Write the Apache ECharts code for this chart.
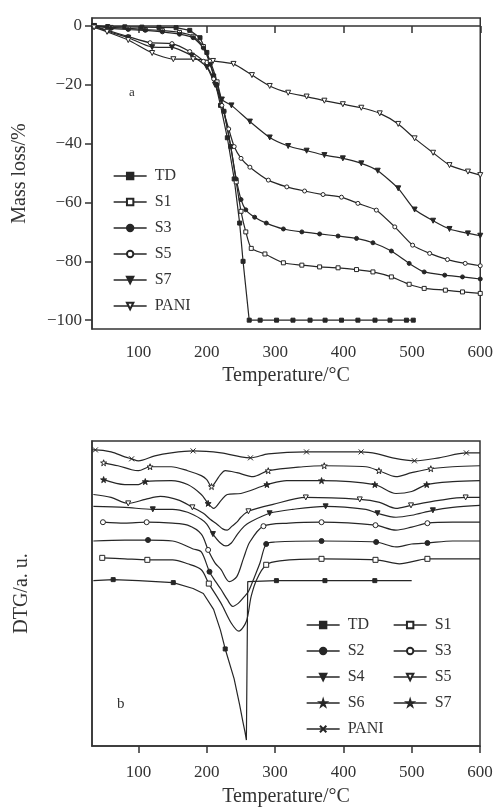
<!DOCTYPE html>
<html><head><meta charset="utf-8">
<script src="https://cdn.jsdelivr.net/npm/echarts@6/dist/echarts.min.js"></script>
<style>html,body{margin:0;padding:0;background:#fff}#c{width:496px;height:808px}</style>
</head><body><div id="c"></div>
<script>
const FONT = "'Liberation Serif','DejaVu Serif','Times New Roman',serif";
const INK = '#262626';
const xTicks = [100, 200, 300, 400, 500, 600];
const massTicks = [-100, -80, -60, -40, -20, 0];

// ---------- Panel a : mass loss (%) vs temperature (°C) ----------
const tdT_a = [35, 55, 80, 105, 130, 155, 175, 190, 200, 210, 220, 230, 240, 248, 253, 262, 278, 302, 326, 351, 373, 397, 421, 446, 468, 492, 502];
const tdY_a = [0, -0.2, -0.3, -0.4, -0.5, -0.6, -1.5, -4, -9, -17, -27, -38, -52, -67, -80, -100, -100, -100, -100, -100, -100, -100, -100, -100, -100, -100, -100];
const s1T_a = [35, 60, 85, 110, 135, 160, 180, 195, 205, 215, 225, 235, 243, 250, 257, 265, 285, 312, 339, 365, 392, 419, 443, 470, 496, 518, 549, 574, 600];
const s1Y_a = [0, -0.5, -0.8, -1.2, -1.6, -2.2, -3.5, -7, -12, -19, -29, -41, -53, -63, -70, -75.6, -77.5, -80.5, -81.3, -81.9, -82.2, -82.8, -83.6, -85.3, -87.8, -89.2, -89.8, -90.4, -90.9];
const s3T_a = [35, 60, 85, 110, 135, 160, 180, 195, 205, 215, 225, 235, 243, 250, 257, 270, 287, 312, 339, 365, 392, 419, 443, 470, 496, 518, 548, 574, 600];
const s3Y_a = [0, -0.8, -1.2, -1.5, -2, -2.8, -4, -7.5, -13, -20, -29, -41, -52, -59, -62.5, -65, -67, -69, -70, -70.7, -71.4, -72.2, -73.7, -76.5, -80.7, -83.6, -84.7, -85.3, -86];
const s5T_a = [35, 55, 85, 117, 149, 175, 195, 210, 222, 232, 240, 250, 263, 290, 317, 343, 370, 397, 421, 448, 475, 501, 526, 552, 578, 600];
const s5Y_a = [0, -1.5, -3.6, -5.7, -6, -8.7, -12, -18, -27, -35, -41, -45, -48, -52.4, -54.7, -56.1, -57.3, -58.2, -60.3, -62.6, -68.3, -74.5, -77.3, -79.4, -80.7, -81.5];
const s7T_a = [35, 55, 85, 120, 149, 178, 200, 212, 222, 236, 263, 292, 319, 346, 372, 399, 426, 450, 480, 504, 531, 555, 582, 600];
const s7Y_a = [0, -1.8, -4, -7.2, -7.3, -10.1, -14, -20, -25, -27, -32.5, -37.9, -40.8, -42.4, -43.9, -45, -46.7, -49.2, -55.2, -62.4, -66.2, -69, -70.5, -71.3];
const paniT_a = [35, 54, 85, 120, 151, 180, 209, 239, 266, 292, 319, 346, 372, 399, 426, 453, 480, 504, 531, 555, 582, 600];
const paniY_a = [-0.5, -2, -4.8, -9.2, -11.3, -11.3, -11.9, -12.9, -16.7, -20.4, -22.7, -24, -25.4, -26.6, -27.8, -29.7, -33.3, -38.2, -43.1, -47.3, -49.5, -50.7];

// ---------- Panel b : DTG (arbitrary units, curves offset) ----------
const paniT_b = [32, 37, 60, 80, 90, 100, 124, 148, 180, 221, 250, 264, 290, 346, 426, 450, 472, 504, 540, 580, 600];
const paniY_b = [299, 299, 297, 292, 290, 288, 293, 296, 298, 296, 292, 291, 295, 297, 297, 295, 291, 288, 291, 296, 296];
const paniM_b = [37, 90, 180, 264, 346, 426, 504, 580];
const s7T_b = [49, 70, 90, 100, 117, 148, 172, 192, 200, 207, 214, 220, 227, 244, 268, 290, 341, 372, 433, 452, 477, 500, 528, 560, 600];
const s7Y_b = [286, 283, 279, 278, 282, 282, 278, 273, 269, 262, 268, 274, 278, 276, 272, 278, 282, 283, 282, 278, 272, 276, 280, 282, 283];
const s7M_b = [49, 117, 207, 290, 372, 452, 528];
const s6T_b = [49, 80, 100, 110, 148, 172, 192, 202, 210, 221, 230, 250, 280, 288, 317, 368, 446, 477, 500, 522, 560, 600];
const s6Y_b = [269, 264, 264, 267, 268, 264, 254, 245, 240, 248, 254, 255, 262, 264, 268, 268, 264, 255, 257, 264, 267, 268];
const s6M_b = [49, 110, 202, 288, 368, 446, 522];
const s5T_b = [34, 60, 85, 110, 132, 160, 179, 195, 205, 215, 224, 230, 237, 244, 250, 261, 297, 345, 424, 453, 477, 499, 540, 579, 600];
const s5Y_b = [254, 251, 245, 249, 252, 248, 241, 235, 229, 224, 219, 218, 222, 226, 231, 237, 244, 251, 249, 246, 240, 243, 248, 251, 251];
const s5M_b = [85, 179, 261, 345, 424, 499, 579];
const s4T_b = [34, 80, 121, 150, 172, 192, 200, 209, 220, 228, 236, 245, 255, 263, 292, 326, 374, 433, 450, 477, 500, 531, 560, 600];
const s4Y_b = [242, 241, 239, 239, 236, 229, 224, 214, 205, 202, 205, 214, 222, 226, 235, 239, 242, 239, 235, 231, 233, 238, 241, 243];
const s4M_b = [121, 209, 292, 374, 450, 531];
const s3T_b = [48, 80, 112, 150, 172, 192, 202, 212, 221, 233, 244, 254, 263, 283, 320, 368, 447, 477, 500, 523, 560, 600];
const s3Y_b = [226, 225, 226, 225, 223, 214, 198, 185, 178, 166, 171, 190, 206, 222, 225, 226, 223, 218, 221, 225, 226, 226];
const s3M_b = [48, 112, 202, 283, 368, 447, 523];
const s2T_b = [34, 80, 114, 150, 180, 192, 204, 213, 221, 230, 238, 246, 254, 261, 270, 278, 287, 300, 368, 448, 477, 500, 523, 560, 600];
const s2Y_b = [207, 208, 208, 207, 199, 196, 176, 166, 158, 148, 141, 144, 150, 156, 171, 185, 204, 206, 207, 206, 201, 204, 205, 207, 207];
const s2M_b = [114, 204, 287, 368, 448, 523];
const s1T_b = [47, 80, 113, 150, 172, 192, 203, 221, 236, 247, 258, 265, 273, 287, 307, 368, 447, 472, 482, 523, 560, 600];
const s1Y_b = [190, 189, 188, 188, 184, 178, 164, 144, 124, 116, 126, 151, 168, 183, 187, 189, 188, 185, 184, 189, 189, 189];
const s1M_b = [47, 113, 203, 287, 368, 447, 523];
const tdT_b = [34, 63, 100, 151, 180, 195, 210, 220, 227, 240, 248, 253, 256, 258, 260, 302, 373, 446, 500];
const tdY_b = [167, 168, 167, 165, 159, 154, 138, 117, 98, 68, 42, 24, 14, 6, 166, 167, 167, 167, 167];
const tdM_b = [63, 151, 227, 302, 373, 446];

// ---------- styles ----------
const STAR = 'path://M50,2 L61,36 L97,36 L68,57 L79,92 L50,71 L21,92 L32,57 L3,36 L39,36 Z';
const CROSS = 'path://M0,0 L10,10 M10,0 L0,10';
const STY = {
  // panel a
  TDa:  {sym: 'rect', open: false},
  S1a:  {sym: 'rect', open: true},
  S3a:  {sym: 'circle', open: false},
  S5a:  {sym: 'circle', open: true},
  S7a:  {sym: 'triangle', rot: 180, open: false},
  PANIa:{sym: 'triangle', rot: 180, open: true},
  // panel b
  TD:   {sym: 'rect', open: false},
  S1:   {sym: 'rect', open: true},
  S2:   {sym: 'circle', open: false},
  S3:   {sym: 'circle', open: true},
  S4:   {sym: 'triangle', rot: 180, open: false},
  S5:   {sym: 'triangle', rot: 180, open: true},
  S6:   {sym: STAR, open: false},
  S7:   {sym: STAR, open: true},
  PANI: {sym: CROSS, open: false}
};

function mk(name, key, T, Y, axis, size, markT, smooth) {
  const st = STY[key];
  const data = T.map((t, i) => (markT && markT.indexOf(t) < 0) ? {value: [t, Y[i]], symbol: 'none'} : [t, Y[i]]);
  return {
    type: 'line', name, xAxisIndex: axis, yAxisIndex: axis, data,
    symbol: st.sym, symbolRotate: st.rot || 0, symbolSize: size, showAllSymbol: true,
    smooth: smooth, animation: false, silent: true,
    lineStyle: {color: INK, width: 1.2},
    itemStyle: {color: st.open ? '#fff' : INK, borderColor: INK, borderWidth: 1},
    emphasis: {disabled: true}
  };
}

const series = [
  mk('TD', 'TDa', tdT_a, tdY_a, 0, 4, null, false),
  mk('S1', 'S1a', s1T_a, s1Y_a, 0, 4, null, 0.2),
  mk('S3', 'S3a', s3T_a, s3Y_a, 0, 4, null, 0.2),
  mk('S5', 'S5a', s5T_a, s5Y_a, 0, 4, null, 0.2),
  mk('S7', 'S7a', s7T_a, s7Y_a, 0, 5, null, 0.2),
  mk('PANI', 'PANIa', paniT_a, paniY_a, 0, 5, null, 0.2),
  mk('b:TD', 'TD', tdT_b, tdY_b, 1, 4, tdM_b, false),
  mk('b:S1', 'S1', s1T_b, s1Y_b, 1, 5, s1M_b, 0.3),
  mk('b:S2', 'S2', s2T_b, s2Y_b, 1, 5, s2M_b, 0.3),
  mk('b:S3', 'S3', s3T_b, s3Y_b, 1, 5, s3M_b, 0.3),
  mk('b:S4', 'S4', s4T_b, s4Y_b, 1, 5, s4M_b, 0.3),
  mk('b:S5', 'S5', s5T_b, s5Y_b, 1, 5, s5M_b, 0.3),
  mk('b:S6', 'S6', s6T_b, s6Y_b, 1, 6, s6M_b, 0.3),
  mk('b:S7', 'S7', s7T_b, s7Y_b, 1, 6, s7M_b, 0.3),
  mk('b:PANI', 'PANI', paniT_b, paniY_b, 1, 5, paniM_b, 0.3)
];

const axisFont = {fontFamily: FONT, fontSize: 17, color: '#333'};
const nameFont = {fontFamily: FONT, fontSize: 20, color: '#333'};
const lineSty = {color: '#333', width: 1.5};

function xAx(gi, gap, margin) {
  return {
    type: 'value', gridIndex: gi, min: 32, max: 600,
    axisLine: {show: true, lineStyle: lineSty},
    axisTick: {show: true, inside: false, length: 7, lineStyle: lineSty, customValues: xTicks},
    axisLabel: Object.assign({margin: margin, customValues: xTicks}, axisFont),
    splitLine: {show: false},
    name: 'Temperature/°C', nameLocation: 'middle', nameGap: gap, nameTextStyle: nameFont
  };
}

const legText = {fontFamily: FONT, fontSize: 16, color: '#333', lineHeight: 16, padding: [0, 0, 0, 3]};
function leg(names, left, top) {
  return {
    data: names, orient: 'vertical', left, top, itemWidth: 33, itemHeight: 8, itemGap: 10,
    selectedMode: false, textStyle: legText, formatter: n => n.replace('b:', ''),
    inactiveColor: INK, lineStyle: {width: 1.3}
  };
}

const option = {
  backgroundColor: '#fff',
  animation: false,
  grid: [
    {left: 92, top: 18, width: 389, height: 311, show: true, borderColor: '#333', borderWidth: 1.5},
    {left: 92, top: 441, width: 388, height: 308, show: true, borderColor: '#333', borderWidth: 1.5}
  ],
  xAxis: [xAx(0, 37, 15), xAx(1, 41, 18)],
  yAxis: [
    {
      type: 'value', gridIndex: 0, min: -103, max: 2.7,
      axisLine: {show: true, lineStyle: lineSty},
      axisTick: {show: true, inside: false, length: 7, lineStyle: lineSty, customValues: massTicks},
      axisLabel: Object.assign({margin: 10, customValues: massTicks, formatter: v => String(v).replace('-', '\u2212')}, axisFont),
      splitLine: {show: false},
      name: 'Mass loss/%', nameLocation: 'middle', nameGap: 62, nameRotate: 90, nameTextStyle: nameFont
    },
    {
      type: 'value', gridIndex: 1, min: 0, max: 308,
      axisLine: {show: true, lineStyle: lineSty},
      axisTick: {show: false}, axisLabel: {show: false}, splitLine: {show: false},
      name: 'DTG/a. u.', nameLocation: 'middle', nameGap: 60, nameRotate: 90, nameTextStyle: nameFont
    }
  ],
  legend: [
    leg(['TD', 'S1', 'S3', 'S5', 'S7', 'PANI'], 108, 163),
    leg(['b:TD', 'b:S2', 'b:S4', 'b:S6', 'b:PANI'], 301, 612),
    leg(['b:S1', 'b:S3', 'b:S5', 'b:S7'], 388, 612)
  ],
  graphic: [
    {type: 'text', left: 129, top: 86, style: {text: 'a', font: '13px ' + FONT, fill: '#333'}},
    {type: 'text', left: 117, top: 697, style: {text: 'b', font: '15px ' + FONT, fill: '#333'}}
  ],
  series
};

const chart = echarts.init(document.getElementById('c'), null, {renderer: 'canvas'});
chart.setOption(option);
</script>
</body></html>
